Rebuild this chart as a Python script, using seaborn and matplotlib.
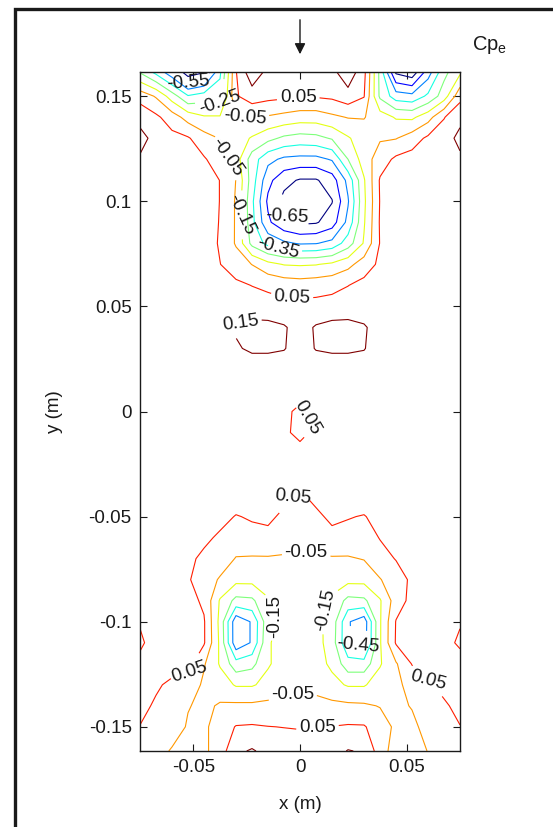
import numpy as np
import matplotlib
matplotlib.use("Agg")
import matplotlib.pyplot as plt
import seaborn as sns
from matplotlib.patches import Rectangle
from matplotlib.colors import Normalize

# ---------------- data ----------------
x_m = [-0.075, -0.0675, -0.06, -0.0525, -0.045, -0.0375, -0.03, -0.0225, -0.015, -0.0075, 0.0,
       0.0075, 0.015, 0.0225, 0.03, 0.0375, 0.045, 0.0525, 0.06, 0.0675, 0.075]
y_m = [0.1615, 0.15, 0.14, 0.13, 0.12, 0.11, 0.10, 0.09, 0.08, 0.07, 0.06, 0.05, 0.04, 0.03, 0.02,
       0.01, 0.0, -0.01, -0.02, -0.03, -0.04, -0.05, -0.06, -0.07, -0.08, -0.09, -0.10, -0.11,
       -0.12, -0.13, -0.14, -0.15, -0.1615]
# Cp_e values, one row per y (top to bottom), one column per x (left to right)
cp_rows = [
    [-0.26, -0.38, -0.52, -0.72, -0.66, -0.37, 0.045, 0.22, 0.12, 0.10, 0.09, 0.10, 0.12, 0.22, 0.08, -0.28, -0.67, -0.72, -0.50, -0.28, -0.17],
    [0.01, -0.06, -0.20, -0.34, -0.30, -0.30, 0.04, 0.10, 0.08, 0.07, 0.06, 0.06, 0.07, 0.11, 0.055, -0.27, -0.40, -0.42, -0.33, -0.20, 0.02],
    [0.12, 0.07, 0.00, -0.09, -0.14, -0.14, -0.06, -0.04, -0.06, -0.08, -0.10, -0.10, -0.07, -0.045, -0.045, -0.10, -0.16, -0.17, -0.09, 0.045, 0.12],
    [0.18, 0.12, 0.08, 0.06, -0.01, -0.055, -0.10, -0.16, -0.22, -0.27, -0.29, -0.28, -0.24, -0.16, -0.10, -0.06, -0.055, 0.00, 0.07, 0.10, 0.18],
    [0.14, 0.11, 0.10, 0.10, 0.06, 0.00, -0.10, -0.30, -0.42, -0.47, -0.48, -0.48, -0.44, -0.25, -0.10, 0.00, 0.07, 0.09, 0.10, 0.12, 0.13],
    [0.11, 0.10, 0.10, 0.10, 0.10, 0.048, -0.052, -0.30, -0.52, -0.62, -0.66, -0.66, -0.60, -0.42, -0.16, 0.06, 0.09, 0.10, 0.10, 0.10, 0.11],
    [0.10, 0.10, 0.10, 0.10, 0.10, 0.048, -0.06, -0.33, -0.57, -0.68, -0.73, -0.72, -0.655, -0.46, -0.17, 0.055, 0.09, 0.10, 0.10, 0.10, 0.10],
    [0.10, 0.10, 0.10, 0.10, 0.10, 0.045, -0.06, -0.32, -0.53, -0.63, -0.67, -0.66, -0.60, -0.42, -0.16, 0.06, 0.09, 0.10, 0.10, 0.10, 0.10],
    [0.10, 0.10, 0.10, 0.10, 0.10, 0.04, -0.06, -0.28, -0.38, -0.43, -0.46, -0.455, -0.42, -0.30, -0.14, 0.055, 0.09, 0.10, 0.10, 0.10, 0.10],
    [0.10, 0.10, 0.10, 0.10, 0.10, 0.052, 0.00, -0.052, -0.12, -0.155, -0.16, -0.155, -0.13, -0.08, 0.00, 0.07, 0.09, 0.10, 0.10, 0.10, 0.10],
    [0.10, 0.10, 0.10, 0.10, 0.10, 0.09, 0.07, 0.048, 0.03, 0.01, 0.00, 0.01, 0.02, 0.048, 0.08, 0.10, 0.10, 0.10, 0.10, 0.10, 0.10],
    [0.10, 0.10, 0.10, 0.10, 0.10, 0.10, 0.10, 0.10, 0.09, 0.08, 0.08, 0.08, 0.09, 0.10, 0.10, 0.10, 0.10, 0.10, 0.10, 0.10, 0.10],
    [0.10, 0.10, 0.10, 0.10, 0.10, 0.11, 0.16, 0.18, 0.18, 0.16, 0.11, 0.16, 0.18, 0.18, 0.16, 0.11, 0.10, 0.10, 0.10, 0.10, 0.10],
    [0.10, 0.10, 0.10, 0.10, 0.10, 0.10, 0.14, 0.165, 0.165, 0.155, 0.11, 0.155, 0.165, 0.165, 0.155, 0.10, 0.10, 0.10, 0.10, 0.10, 0.10],
    [0.10, 0.10, 0.10, 0.10, 0.10, 0.10, 0.10, 0.10, 0.10, 0.10, 0.10, 0.10, 0.10, 0.10, 0.10, 0.10, 0.10, 0.10, 0.10, 0.10, 0.10],
    [0.10, 0.10, 0.10, 0.10, 0.10, 0.10, 0.10, 0.10, 0.10, 0.09, 0.09, 0.09, 0.10, 0.10, 0.10, 0.10, 0.10, 0.10, 0.10, 0.10, 0.10],
    [0.10, 0.10, 0.10, 0.10, 0.10, 0.10, 0.10, 0.10, 0.10, 0.07, 0.03, 0.075, 0.10, 0.10, 0.10, 0.10, 0.10, 0.10, 0.10, 0.10, 0.10],
    [0.10, 0.10, 0.10, 0.10, 0.10, 0.10, 0.10, 0.10, 0.10, 0.07, 0.02, 0.075, 0.10, 0.10, 0.10, 0.10, 0.10, 0.10, 0.10, 0.10, 0.10],
    [0.10, 0.10, 0.10, 0.10, 0.10, 0.10, 0.10, 0.10, 0.10, 0.10, 0.09, 0.10, 0.10, 0.10, 0.10, 0.10, 0.10, 0.10, 0.10, 0.10, 0.10],
    [0.10, 0.10, 0.10, 0.10, 0.10, 0.10, 0.10, 0.10, 0.10, 0.10, 0.10, 0.10, 0.10, 0.10, 0.10, 0.10, 0.10, 0.10, 0.10, 0.10, 0.10],
    [0.10, 0.10, 0.10, 0.10, 0.10, 0.10, 0.10, 0.10, 0.10, 0.07, 0.04, 0.07, 0.10, 0.10, 0.10, 0.10, 0.10, 0.10, 0.10, 0.10, 0.10],
    [0.10, 0.10, 0.10, 0.10, 0.09, 0.08, 0.045, 0.06, 0.065, 0.035, 0.01, 0.035, 0.065, 0.055, 0.045, 0.08, 0.09, 0.10, 0.10, 0.10, 0.10],
    [0.10, 0.10, 0.10, 0.09, 0.07, 0.035, 0.00, 0.02, 0.03, -0.01, -0.03, -0.01, 0.03, 0.02, 0.00, 0.055, 0.08, 0.10, 0.10, 0.10, 0.10],
    [0.10, 0.10, 0.09, 0.07, 0.03, 0.00, -0.055, -0.06, -0.06, -0.06, -0.06, -0.06, -0.06, -0.06, -0.045, 0.01, 0.055, 0.08, 0.10, 0.10, 0.10],
    [0.10, 0.10, 0.09, 0.06, 0.00, -0.06, -0.12, -0.12, -0.10, -0.08, -0.08, -0.08, -0.10, -0.12, -0.12, -0.055, 0.00, 0.07, 0.10, 0.10, 0.10],
    [0.10, 0.10, 0.10, 0.09, 0.03, -0.16, -0.28, -0.27, -0.16, -0.10, -0.09, -0.10, -0.17, -0.28, -0.27, -0.16, 0.00, 0.08, 0.10, 0.10, 0.10],
    [0.06, 0.10, 0.10, 0.10, 0.06, -0.18, -0.52, -0.44, -0.18, -0.12, -0.10, -0.12, -0.19, -0.44, -0.51, -0.16, 0.055, 0.09, 0.10, 0.10, 0.06],
    [0.03, 0.10, 0.10, 0.10, 0.06, -0.17, -0.52, -0.44, -0.16, -0.11, -0.10, -0.11, -0.20, -0.44, -0.50, -0.16, 0.06, 0.09, 0.10, 0.09, 0.03],
    [0.08, 0.10, 0.08, 0.09, -0.04, -0.16, -0.31, -0.28, -0.16, -0.11, -0.10, -0.11, -0.17, -0.31, -0.31, -0.16, -0.06, 0.055, 0.08, 0.09, 0.10],
    [0.08, 0.06, 0.035, 0.02, -0.07, -0.10, -0.16, -0.16, -0.12, -0.08, -0.07, -0.08, -0.12, -0.16, -0.16, -0.10, -0.07, -0.02, 0.04, 0.07, 0.08],
    [0.07, 0.04, 0.00, -0.045, -0.07, -0.04, -0.03, -0.03, -0.025, -0.02, -0.02, -0.02, -0.025, -0.03, -0.035, -0.055, -0.07, -0.045, 0.01, 0.04, 0.07],
    [0.048, 0.03, 0.00, -0.06, -0.07, 0.00, 0.055, 0.06, 0.052, 0.048, 0.045, 0.048, 0.052, 0.06, 0.058, 0.00, -0.07, -0.07, -0.02, 0.02, 0.048],
    [0.02, -0.01, -0.06, -0.08, -0.07, 0.00, 0.13, 0.16, 0.12, 0.10, 0.09, 0.10, 0.11, 0.155, 0.14, 0.00, -0.10, -0.08, -0.048, -0.02, 0.02],
]
levels = [-0.65, -0.55, -0.45, -0.35, -0.25, -0.15, -0.05, 0.05, 0.15]
x_ticks = [-0.05, 0.0, 0.05]
x_tick_labels = ["-0.05", "0", "0.05"]
y_ticks = [-0.15, -0.1, -0.05, 0.0, 0.05, 0.1, 0.15]
y_tick_labels = ["-0.15", "-0.1", "-0.05", "0", "0.05", "0.1", "0.15"]
# inline labels: (x, y, text angle in degrees), per contour level
label_spots = {
    -0.65: [(-0.0024, 0.0964, -3)],
    -0.55: [(-0.0519, 0.1524, 5)],
    -0.45: [(0.0269, -0.112, -5)],
    -0.35: [(-0.0100, 0.0795, -15)],
    -0.25: [(-0.0377, 0.138, 20)],
    -0.15: [(-0.0290, 0.0935, -65), (-0.0132, -0.098, 90), (0.0165, -0.0955, 78)],
    -0.05: [(-0.027, 0.134, -5), (-0.035, 0.1206, -55), (0.0024, -0.070, 0), (-0.0033, -0.136, 0)],
    0.05: [(-0.001, 0.151, 0), (-0.0038, 0.054, -3), (0.0, -0.0033, -60), (-0.0038, -0.040, -5),
           (-0.0519, -0.124, 18), (0.060, -0.128, -15), (0.0085, -0.153, 0)],
    0.15: [(-0.027, 0.0395, 8)],
}

# ---------------- style ----------------
sns.set_theme(style="ticks")
plt.rcParams["font.family"] = ["Liberation Sans", "DejaVu Sans"]
plt.rcParams["mathtext.default"] = "regular"
plt.rcParams["contour.negative_linestyle"] = "solid"

fig = plt.figure(figsize=(5.53, 8.27), dpi=100)
fig.patch.set_facecolor("white")
ax = fig.add_axes([140 / 553, 76 / 827, 320 / 553, 679 / 827])
ax.set_facecolor("white")

xs = np.array(x_m)
ys = np.array(y_m)[::-1]
Z = np.array(cp_rows)[::-1, :]

cmap = plt.get_cmap("jet")
norm = Normalize(vmin=min(levels), vmax=max(levels))
for lev in levels:
    cs = ax.contour(xs, ys, Z, levels=[lev], colors=[cmap(norm(lev))],
                    linewidths=0.8, linestyles="solid")
    spots = label_spots.get(lev, [])
    if spots:
        texts = ax.clabel(cs, manual=[(sx, sy) for sx, sy, _ in spots], inline=True,
                          inline_spacing=3, fontsize=13.5, colors="k", fmt="%g")
        for t, (_, _, ang) in zip(texts, spots):
            t.set_rotation(ang)

ax.set_xlim(-0.075, 0.075)
ax.set_ylim(-0.1615, 0.1615)
ax.set_xticks(x_ticks)
ax.set_xticklabels(x_tick_labels)
ax.set_yticks(y_ticks)
ax.set_yticklabels(y_tick_labels)
ax.tick_params(direction="in", length=5, width=0.8, top=True, right=True,
               labelsize=13.5, colors="k", pad=6)
for sp in ax.spines.values():
    sp.set_visible(True)
    sp.set_linewidth(1.0)
    sp.set_color("k")

ax.set_xlabel("x (m)", fontsize=13.5, color="k")
ax.set_ylabel("y (m)", fontsize=13.5, color="k")
ax.xaxis.set_label_coords(0.5, -0.067)
ax.yaxis.set_label_coords(-0.24, 0.5)

# flow-direction arrow above x = 0
ax.annotate("", xy=(0.0, 1 - 57 / 827), xytext=(0.0, 1 - 17 / 827),
            xycoords=("data", "figure fraction"), textcoords=("data", "figure fraction"),
            arrowprops=dict(arrowstyle="-|>", color="k", lw=1.0, mutation_scale=16),
            annotation_clip=False)

fig.text(490 / 553, 1 - 45 / 827, "Cp$_e$", fontsize=14.5, ha="center", va="center", color="k")

# outer frame (runs off the right and bottom of the picture)
fig.patches.append(Rectangle((15 / 553, -0.2), 1.5, 1.2 - 8.5 / 827, fill=False,
                             edgecolor="k", linewidth=2.4, transform=fig.transFigure))

fig.savefig("out.png", dpi=100, facecolor="white")
